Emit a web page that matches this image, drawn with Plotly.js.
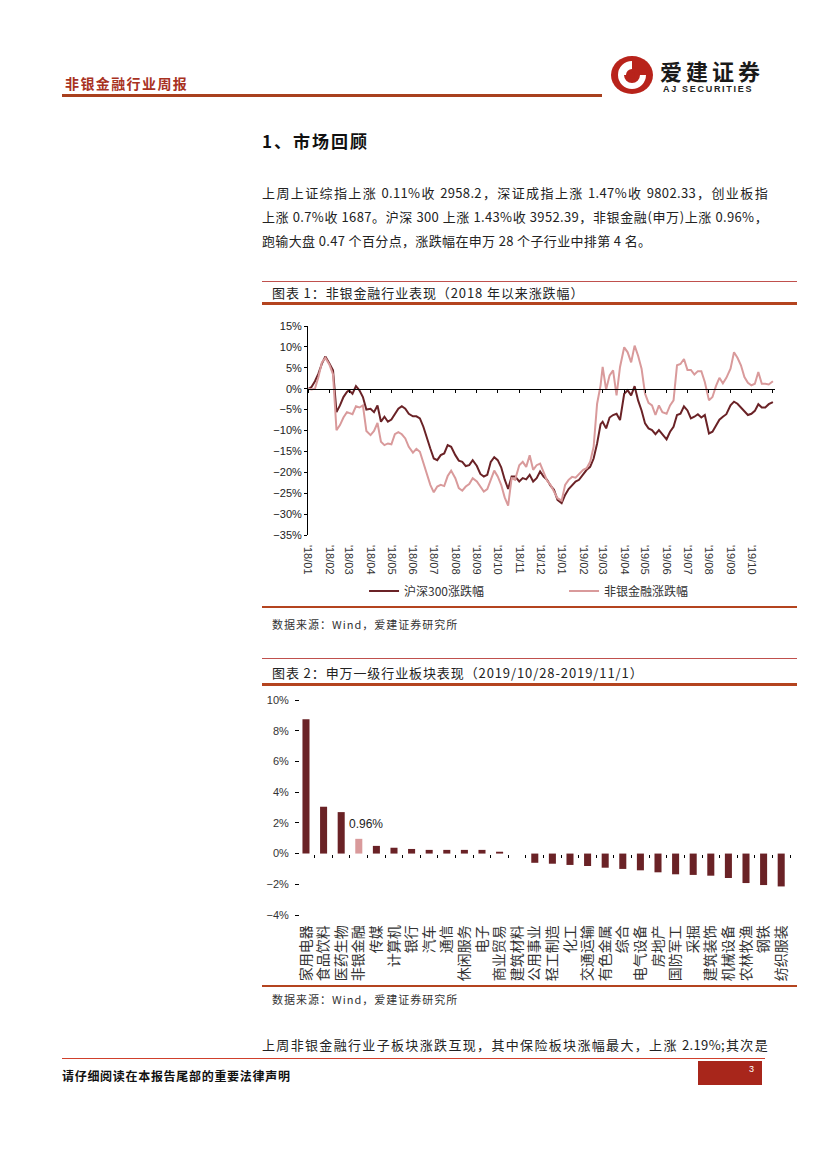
<!DOCTYPE html>
<html><head><meta charset="utf-8">
<script src="https://cdn.plot.ly/plotly-3.0.1.min.js"></script>
<style>
body{margin:0;background:#fff;}
#page{position:relative;width:827px;height:1169px;overflow:hidden;font-family:"Noto Sans CJK SC","Noto Sans",sans-serif;color:#222;background:#fff;}
.abs{position:absolute;white-space:nowrap;}
.thin{position:absolute;height:1px;background:#c0504d;}
.thick{position:absolute;height:3px;background:#b4441f;}
.cap{position:absolute;font-size:13px;line-height:15px;color:#222;white-space:nowrap;letter-spacing:0.9px;}
.src{position:absolute;font-size:11px;line-height:13px;color:#333;white-space:nowrap;letter-spacing:1px;}
.para{position:absolute;left:262px;font-size:13px;line-height:15px;color:#222;white-space:nowrap;letter-spacing:0.35px;}
.just{width:506px;white-space:normal;text-align:justify;text-align-last:justify;text-justify:inter-character;}
</style></head><body><div id="page">

<div class="abs" style="left:65px;top:75px;font-size:14px;line-height:16px;font-weight:bold;color:#a8321f;letter-spacing:1.4px;">非银金融行业周报</div>
<div class="abs" style="left:62px;top:94px;width:540px;height:3px;background:#a8401e;"></div>
<svg class="abs" style="left:610px;top:55px;" width="44" height="40" viewBox="0 0 44 40">
  <ellipse cx="22" cy="20" rx="21" ry="19" fill="#b8231b"/>
  <path d="M22 6 A14 14 0 1 0 36 20 L28 20 A6 6 0 1 1 22 14 Z" fill="#fff"/>
  <path d="M22 12 A8 8 0 1 1 14 20 L19 20 A3 3 0 1 0 22 17 Z" fill="#b8231b"/>
</svg>
<div class="abs" style="left:660px;top:59px;font-size:22px;line-height:22px;letter-spacing:4px;font-weight:bold;color:#1a1a1a;">爱建证券</div>
<div class="abs" style="left:663px;top:84px;font-size:9px;line-height:10px;letter-spacing:1.7px;font-weight:bold;color:#222;font-family:'Liberation Sans',sans-serif;">AJ SECURITIES</div>

<div class="abs" style="left:262px;top:131px;font-size:17px;line-height:20px;font-weight:bold;color:#111;letter-spacing:2px;">1、市场回顾</div>

<div class="para just" style="top:185px;">上周上证综指上涨 0.11%收 2958.2，深证成指上涨 1.47%收 9802.33，创业板指</div>
<div class="para just" style="top:209px;">上涨 0.7%收 1687。沪深 300 上涨 1.43%收 3952.39，非银金融(申万)上涨 0.96%，</div>
<div class="para" style="top:233px;">跑输大盘 0.47 个百分点，涨跌幅在申万 28 个子行业中排第 4 名。</div>

<div class="thin" style="left:262px;top:281px;width:535px;"></div>
<div class="cap" style="left:272px;top:285px;">图表 1：非银金融行业表现（2018 年以来涨跌幅）</div>
<div class="thick" style="left:262px;top:302px;width:535px;"></div>
<div id="chart1" class="abs" style="left:262px;top:305px;width:535px;height:300px;"></div>
<div class="thick" style="left:262px;top:606px;width:535px;height:2px;"></div>
<div class="src" style="left:272px;top:618px;">数据来源：Wind，爱建证券研究所</div>

<div class="thin" style="left:262px;top:658px;width:535px;"></div>
<div class="cap" style="left:272px;top:665px;">图表 2：申万一级行业板块表现（2019/10/28-2019/11/1）</div>
<div class="thick" style="left:262px;top:683px;width:535px;"></div>
<div id="chart2" class="abs" style="left:262px;top:690px;width:535px;height:295px;"></div>
<div class="thick" style="left:262px;top:985px;width:535px;height:2px;"></div>
<div class="src" style="left:272px;top:993px;">数据来源：Wind，爱建证券研究所</div>

<div class="para just" style="top:1037px;">上周非银金融行业子板块涨跌互现，其中保险板块涨幅最大，上涨 2.19%;其次是</div>

<div class="abs" style="left:62px;top:1058px;width:703px;height:1px;background:#d0402c;"></div>
<div class="abs" style="left:62px;top:1069px;font-size:12px;line-height:14px;font-weight:bold;color:#111;letter-spacing:0.7px;">请仔细阅读在本报告尾部的重要法律声明</div>
<div class="abs" style="left:698px;top:1061px;width:64px;height:24px;background:#a8261b;"></div>
<div class="abs" style="left:749px;top:1064px;font-size:9px;line-height:10px;color:#fff;font-family:'Liberation Sans',sans-serif;">3</div>

</div>
<script>
// ---- Chart 1 data ----
const dates = [
"2018-01-02","2018-01-06","2018-01-11","2018-01-16","2018-01-21","2018-01-26",
"2018-02-01","2018-02-06","2018-02-11","2018-02-16","2018-02-21","2018-02-26",
"2018-03-01","2018-03-06","2018-03-11","2018-03-16","2018-03-21","2018-03-26",
"2018-04-01","2018-04-06","2018-04-11","2018-04-16","2018-04-21","2018-04-26",
"2018-05-01","2018-05-06","2018-05-11","2018-05-16","2018-05-21","2018-05-26",
"2018-06-01","2018-06-06","2018-06-11","2018-06-16","2018-06-21","2018-06-26",
"2018-07-01","2018-07-06","2018-07-11","2018-07-16","2018-07-21","2018-07-26",
"2018-08-01","2018-08-06","2018-08-11","2018-08-16","2018-08-21","2018-08-26",
"2018-09-01","2018-09-06","2018-09-11","2018-09-16","2018-09-21","2018-09-26",
"2018-10-01","2018-10-06","2018-10-11","2018-10-16","2018-10-21","2018-10-26",
"2018-11-01","2018-11-06","2018-11-11","2018-11-16","2018-11-21","2018-11-26",
"2018-12-01","2018-12-06","2018-12-11","2018-12-16","2018-12-21","2018-12-26",
"2019-01-01","2019-01-06","2019-01-11","2019-01-16","2019-01-21","2019-01-26",
"2019-02-01","2019-02-06","2019-02-11","2019-02-16","2019-02-21","2019-02-26",
"2019-03-01","2019-03-06","2019-03-11","2019-03-16","2019-03-21","2019-03-26",
"2019-04-01","2019-04-06","2019-04-11","2019-04-16","2019-04-21","2019-04-26",
"2019-05-01","2019-05-06","2019-05-11","2019-05-16","2019-05-21","2019-05-26",
"2019-06-01","2019-06-06","2019-06-11","2019-06-16","2019-06-21","2019-06-26",
"2019-07-01","2019-07-06","2019-07-11","2019-07-16","2019-07-21","2019-07-26",
"2019-08-01","2019-08-06","2019-08-11","2019-08-16","2019-08-21","2019-08-26",
"2019-09-01","2019-09-06","2019-09-11","2019-09-16","2019-09-21","2019-09-26",
"2019-10-01","2019-10-06","2019-10-11","2019-10-16","2019-10-21","2019-10-26",
"2019-11-01"];

const hs300 = [
0,0.4,1.8,3.6,6.0,7.7,
6.0,4.4,-5.6,-4.0,-2.0,-0.8,
-0.4,-1.2,0.6,-0.4,-2.0,-5.0,
-4.8,-5.6,-4.0,-7.9,-6.7,-7.9,
-7.4,-6.0,-4.8,-4.2,-4.8,-6.0,
-6.6,-6.6,-7.1,-9.1,-11.9,-14.3,
-16.7,-17.1,-15.9,-15.5,-13.5,-13.9,
-15.9,-17.2,-17.5,-18.5,-18.3,-17.1,
-18.5,-20.4,-21.0,-20.6,-17.5,-16.4,
-17.1,-18.8,-21.7,-24.0,-21.0,-21.0,
-22.2,-21.4,-21.7,-20.6,-22.2,-21.4,
-19.8,-21.0,-21.8,-23.2,-24.2,-26.6,
-27.4,-25.4,-24.0,-23.2,-22.2,-21.8,
-20.4,-19.4,-18.7,-16.7,-13.1,-8.5,
-7.9,-9.5,-6.9,-6.3,-6.0,-7.5,
-1.2,-0.4,-1.6,0.6,-2.8,-5.2,
-8.3,-9.5,-9.9,-10.9,-9.9,-10.9,
-12.1,-10.3,-9.1,-6.3,-6.0,-4.2,
-5.2,-7.1,-6.7,-6.1,-6.9,-6.3,
-10.7,-10.3,-8.7,-7.4,-6.7,-6.1,
-4.0,-3.1,-3.6,-4.5,-5.3,-6.3,
-6.0,-5.3,-3.7,-4.5,-4.5,-3.7,
-3.2];

const nonbank = [
0,-0.2,0,2.8,6.3,7.4,
5.7,3.4,-9.9,-8.7,-6.9,-5.6,
-5.8,-6.1,-4.2,-4.5,-4.0,-10.1,
-11.1,-10.1,-8.2,-12.7,-13.5,-13.1,
-13.3,-10.9,-10.4,-10.9,-11.9,-13.9,
-15.3,-14.4,-15.1,-17.9,-20.6,-23.0,
-24.8,-23.4,-23.0,-23.3,-20.9,-19.6,
-21.4,-23.8,-24.4,-23.4,-22.8,-21.4,
-22.2,-23.3,-24.6,-24.0,-22.0,-19.6,
-21.0,-23.0,-26.0,-28.0,-21.4,-21.8,
-18.3,-17.5,-18.7,-15.9,-19.4,-18.3,
-17.9,-19.8,-22.0,-23.0,-24.6,-26.2,
-26.8,-23.0,-21.8,-21.1,-21.3,-20.4,
-19.4,-19.0,-17.5,-13.9,-3.6,0.8,
5.2,-0.2,3.2,4.4,-1.6,5.2,
9.9,8.7,6.3,10.3,7.9,4.8,
-1.2,-3.4,-4.0,-6.3,-4.0,-5.6,
-6.0,-4.0,-2.8,5.6,5.9,7.1,
4.5,4.5,3.4,4.2,4.2,1.6,
-2.8,-2.0,0.6,2.6,1.3,2.6,
4.8,8.7,7.4,5.6,2.8,1.4,
0.8,1.2,4.0,1.2,1.2,1.0,
1.8];

const monthTicks = ["2018-01-01","2018-02-01","2018-03-01","2018-04-01","2018-05-01","2018-06-01",
"2018-07-01","2018-08-01","2018-09-01","2018-10-01","2018-11-01","2018-12-01",
"2019-01-01","2019-02-01","2019-03-01","2019-04-01","2019-05-01","2019-06-01",
"2019-07-01","2019-08-01","2019-09-01","2019-10-01","2019-11-01"];
const monthLabels = ["'18/01","'18/02","'18/03","'18/04","'18/05","'18/06","'18/07","'18/08","'18/09","'18/10","'18/11","'18/12",
"'19/01","'19/02","'19/03","'19/04","'19/05","'19/06","'19/07","'19/08","'19/09","'19/10",""];
const seriesNames = ["沪深300涨跌幅","非银金融涨跌幅"];

// ---- Chart 2 data ----
const industries = ["家用电器","食品饮料","医药生物","非银金融","传媒","计算机","银行","汽车","通信","休闲服务","电子","商业贸易","建筑材料",
"公用事业","轻工制造","化工","交通运输","有色金属","综合","电气设备","房地产","国防军工","采掘","建筑装饰","机械设备","农林牧渔","钢铁","纺织服装"];
const weekChange = [8.75,3.05,2.7,0.96,0.5,0.38,0.3,0.24,0.24,0.24,0.24,0.12,0.0,
-0.6,-0.66,-0.74,-0.81,-0.92,-1.0,-1.09,-1.22,-1.35,-1.39,-1.44,-1.59,-1.92,-2.05,-2.14];
const highlight = "非银金融";

const CJK = '"Noto Sans CJK SC", sans-serif';
const NUM = '"Liberation Sans", Arial, sans-serif';
const DARK = '#6a2226';
const PINK = '#d99a9b';

Plotly.newPlot('chart1', [
  {x:dates, y:hs300, type:'scatter', mode:'lines', name:seriesNames[0], line:{color:DARK, width:2}},
  {x:dates, y:nonbank, type:'scatter', mode:'lines', name:seriesNames[1], line:{color:PINK, width:2}}
], {
  width:535, height:300, margin:{l:46,r:22,t:21,b:70, autoexpand:false},
  paper_bgcolor:'rgba(0,0,0,0)', plot_bgcolor:'rgba(0,0,0,0)',
  font:{family:NUM, size:11, color:'#222'},
  showlegend:true,
  legend:{orientation:'h', x:0.12, xanchor:'left', y:-0.268, yanchor:'middle',
    font:{family:CJK, size:12, color:'#333'}, entrywidth:155, entrywidthmode:'pixels',
    bgcolor:'rgba(0,0,0,0)', itemwidth:30},
  xaxis:{type:'date', range:['2018-01-01','2019-11-04'], anchor:'free', position:0.7,
    showline:true, linecolor:'#000', linewidth:1, ticks:'outside', ticklen:3, tickcolor:'#000',
    tickvals:monthTicks, ticktext:monthLabels, tickangle:90, ticklabelstandoff:150,
    showgrid:false, zeroline:false, tickfont:{family:NUM, size:11, color:'#333'}, automargin:false},
  yaxis:{range:[-35,15], dtick:5, ticksuffix:'%', showline:true, linecolor:'#000', linewidth:1,
    ticks:'outside', ticklen:3, tickcolor:'#000', showgrid:false, zeroline:false,
    tickfont:{family:NUM, size:11, color:'#222'}, automargin:false}
}, {staticPlot:true});

Plotly.newPlot('chart2', [
  {x:industries, y:weekChange, type:'bar',
   marker:{color:industries.map(c => c === highlight ? PINK : DARK)}, hoverinfo:'skip'}
], {
  width:535, height:295, margin:{l:38,r:7,t:10,b:70, autoexpand:false},
  paper_bgcolor:'rgba(0,0,0,0)', plot_bgcolor:'rgba(0,0,0,0)',
  font:{family:NUM, size:11, color:'#333'},
  showlegend:false, bargap:0.6,
  xaxis:{type:'category', range:[-0.34,27.5], anchor:'free', position:4/14,
    showline:false, ticks:'outside', tickson:'boundaries', ticklen:3, tickcolor:'#000',
    tickangle:-90, ticklabelstandoff:68, tickfont:{family:CJK, size:14, color:'#333'},
    showgrid:false, zeroline:false, automargin:false},
  yaxis:{range:[-4,10], dtick:2, ticksuffix:'%', showline:false, ticks:'outside', ticklen:4,
    tickcolor:'#000', showgrid:false, zeroline:false, ticklabelstandoff:4,
    tickfont:{family:NUM, size:11, color:'#333'}, automargin:false},
  annotations:[{x:highlight, y:weekChange[industries.indexOf(highlight)], text:'0.96%', showarrow:false,
    yanchor:'bottom', xanchor:'left', xshift:-12, yshift:6, font:{family:NUM, size:12, color:'#222'}}]
}, {staticPlot:true});
</script>
</body></html>
